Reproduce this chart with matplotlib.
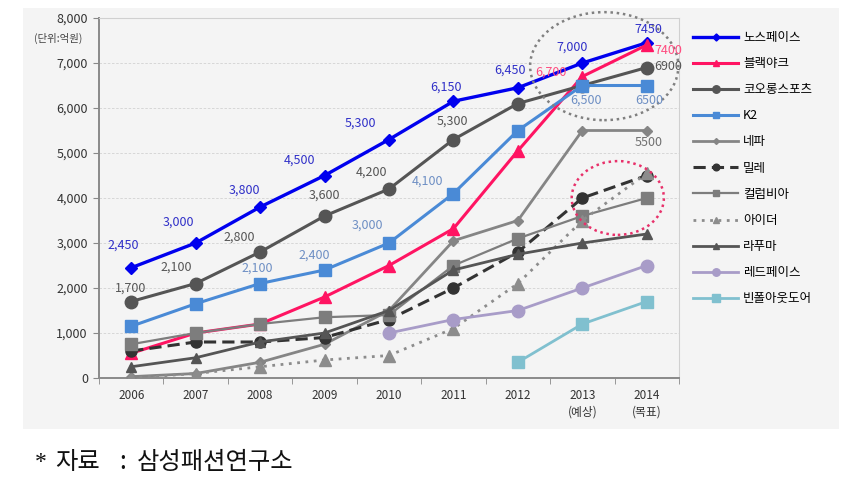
import numpy as np
import matplotlib
matplotlib.use('Agg')
import matplotlib.pyplot as plt
from matplotlib.patches import Ellipse, Rectangle

plt.rcParams['font.family'] = ['Noto Sans CJK KR', 'DejaVu Sans']

nan = np.nan
years = ['2006', '2007', '2008', '2009', '2010', '2011', '2012', '2013\n(예상)', '2014\n(목표)']

northface = [2450, 3000, 3800, 4500, 5300, 6150, 6450, 7000, 7450]
blackyak = [550, 1000, 1200, 1800, 2500, 3320, 5050, 6700, 7400]
kolon = [1700, 2100, 2800, 3600, 4200, 5300, 6100, 6500, 6900]
k2 = [1150, 1650, 2100, 2400, 3000, 4100, 5500, 6500, 6500]
nepa = [30, 100, 350, 750, 1500, 3050, 3500, 5500, 5500]
millet = [600, 800, 800, 900, 1300, 2000, 2800, 4000, 4500]
columbia = [750, 1000, 1200, 1350, 1400, 2500, 3100, 3600, 4000]
eider = [0, 100, 250, 400, 500, 1100, 2100, 3500, 4550]
lafuma = [250, 450, 800, 1000, 1500, 2400, 2750, 3000, 3200]
redface = [nan, nan, nan, nan, 1000, 1300, 1500, 2000, 2500]
beanpole = [nan, nan, nan, nan, nan, nan, 350, 1200, 1700]

names = ['노스페이스', '블랙야크', '코오롱스포츠', 'K2', '네파', '밀레',
         '컬럼비아', '아이더', '라푸마', '레드페이스', '빈폴아웃도어']
series = [northface, blackyak, kolon, k2, nepa, millet,
          columbia, eider, lafuma, redface, beanpole]

# style per series: color, marker, markersize, linestyle, linewidth
styles = [
    ('#0000ee', 'D', 6, '-', 2.4),
    ('#ff1462', '^', 8, '-', 2.2),
    ('#555555', 'o', 9, '-', 2.2),
    ('#4a8ad6', 's', 8, '-', 2.2),
    ('#858585', 'D', 5, '-', 2.0),
    ('#333333', 'o', 8, (0, (4, 2)), 2.2),
    ('#7d7d7d', 's', 8, '-', 1.6),
    ('#8c8c8c', '^', 8, (0, (1, 2)), 2.0),
    ('#555555', '^', 7, '-', 2.0),
    ('#a89cc8', 'o', 9, '-', 2.0),
    ('#80c0cf', 's', 9, '-', 2.0),
]

fig = plt.figure(figsize=(8.6, 4.88), dpi=100)
fig.patch.set_facecolor('white')
bg = Rectangle((23 / 860, 1 - 429 / 488), (839 - 23) / 860, (429 - 8) / 488,
               transform=fig.transFigure, facecolor='#f4f4f4', edgecolor='none')
bg.set_zorder(-5)
fig.add_artist(bg)

ax = fig.add_axes([99 / 860, 1 - 378 / 488, 580 / 860, 360 / 488])
ax.set_facecolor('#f4f4f4')
ax.set_zorder(1)
x = np.arange(len(years))

handles = []
for s, name, (c, m, ms, ls, lw) in zip(series, names, styles):
    h, = ax.plot(x, s, color=c, marker=m, markersize=ms, linestyle=ls,
                 linewidth=lw, label=name, zorder=3)
    handles.append(h)

ax.set_xlim(-0.5, 8.5)
ax.set_ylim(0, 8000)
ax.set_yticks(range(0, 8001, 1000))
ax.set_yticklabels([f'{v:,}' for v in range(0, 8001, 1000)], fontsize=9, color='#333333')
ax.set_xticks(x)
ax.set_xticklabels(years, fontsize=8.5, color='#333333')
for lbl in ax.get_xticklabels():
    lbl.set_linespacing(1.3)
ax.set_xticks(np.arange(-0.5, 9, 1), minor=True)
ax.tick_params(axis='x', which='major', length=0, pad=8)
ax.tick_params(axis='x', which='minor', length=4, color='#888888', direction='out')
ax.tick_params(axis='y', length=4, color='#888888', pad=4)
ax.grid(axis='y', color='#d2d2d2', linestyle=(0, (3, 2)), linewidth=0.6, zorder=1)
for sp in ['left', 'bottom']:
    ax.spines[sp].set_color('#8a8a8a')
    ax.spines[sp].set_linewidth(1.4)
for sp in ['top', 'right']:
    ax.spines[sp].set_color('#d0d0d0')
    ax.spines[sp].set_linewidth(0.8)

fig.text(58 / 860, 1 - 38 / 488, '(단위:억원)', fontsize=7.5, color='#444444',
         ha='center', va='center')

# value labels, offsets in pixels from the point
nf_off = [(-8, 23), (-17, 21), (-16, 17), (-25, 15), (-29, 16), (-7, 14), (-8, 18), (-10, 16), (2, 13)]
nf_txt = ['2,450', '3,000', '3,800', '4,500', '5,300', '6,150', '6,450', '7,000', '7450']
for i, (t, (dx, dy)) in enumerate(zip(nf_txt, nf_off)):
    ax.annotate(t, (x[i], northface[i]), xytext=(dx, dy), textcoords='offset pixels',
                ha='center', va='center', fontsize=9, color='#3030c8', zorder=5)

ko_idx = [0, 1, 2, 3, 4, 5, 8]
ko_txt = ['1,700', '2,100', '2,800', '3,600', '4,200', '5,300', '6900']
ko_off = [(-1, 13), (-19, 16), (-21, 15), (0, 21), (-17, 17), (-1, 18), (21, 1)]
for i, t, (dx, dy) in zip(ko_idx, ko_txt, ko_off):
    ax.annotate(t, (x[i], kolon[i]), xytext=(dx, dy), textcoords='offset pixels',
                ha='center', va='center', fontsize=9, color='#555555', zorder=5)

k2_idx = [2, 3, 4, 5, 7, 8]
k2_txt = ['2,100', '2,400', '3,000', '4,100', '6,500', '6500']
k2_off = [(-3, 15), (-10, 15), (-22, 18), (-26, 12), (4, -15), (2, -15)]
for i, t, (dx, dy) in zip(k2_idx, k2_txt, k2_off):
    ax.annotate(t, (x[i], k2[i]), xytext=(dx, dy), textcoords='offset pixels',
                ha='center', va='center', fontsize=9, color='#6e8fc4', zorder=5)

by_idx = [7, 8]
by_txt = ['6,700', '7400']
by_off = [(-31, 4), (22, -5)]
for i, t, (dx, dy) in zip(by_idx, by_txt, by_off):
    ax.annotate(t, (x[i], blackyak[i]), xytext=(dx, dy), textcoords='offset pixels',
                ha='center', va='center', fontsize=9, color='#ff4d80', zorder=5)

ax.annotate('5500', (x[8], nepa[8]), xytext=(2, -12), textcoords='offset pixels',
            ha='center', va='center', fontsize=9, color='#707070', zorder=5)

# highlight ellipses
ax.add_patch(Ellipse((7.34, 6930), 2.3, 2400, fill=False, edgecolor='#808080',
                     linestyle=(0, (1, 1.5)), linewidth=1.8, clip_on=False, zorder=4))
ax.add_patch(Ellipse((7.55, 4000), 1.43, 1640, fill=False, edgecolor='#e8306a',
                     linestyle=(0, (1, 1.5)), linewidth=1.8, clip_on=False, zorder=4))

fig.legend(handles=handles, loc='upper left', bbox_to_anchor=(688 / 860, 1 - 26 / 488),
           frameon=False, fontsize=9, handlelength=3.6, labelspacing=1.05,
           handletextpad=0.4, borderaxespad=0, markerscale=0.6)

# source note
fy = 1 - 462 / 488
fig.text(35 / 860, fy, '*', fontsize=17, color='#111111', ha='left', va='center',
         family=['Liberation Serif', 'DejaVu Serif'])
fig.text(55 / 860, fy, '자료', fontsize=17.5, color='#111111', ha='left', va='center')
fig.text(119 / 860, fy, ':', fontsize=17.5, color='#111111', ha='left', va='center')
fig.text(137 / 860, fy, '삼성패션연구소', fontsize=17.5, color='#111111', ha='left', va='center')

fig.savefig('out.png', dpi=100)
